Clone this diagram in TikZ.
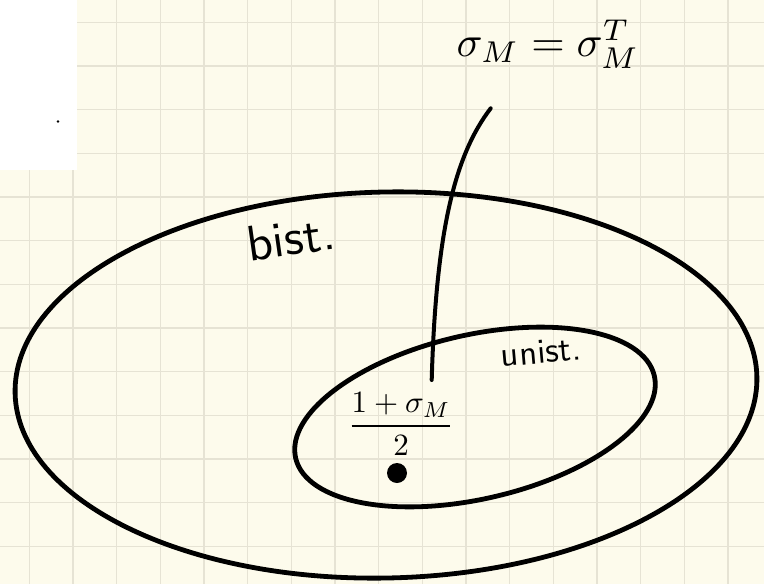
\documentclass[tikz,border=0pt]{standalone}
\usepackage{amsmath}
\definecolor{paper}{HTML}{FDFBEC}
\definecolor{gridline}{HTML}{E6E3D4}
\tikzset{
  pen/.style={line width=4.8pt},
  hand/.style={font=\sffamily}
}
\begin{document}
\begin{tikzpicture}[x=1pt,y=-1pt]
            \useasboundingbox (0,0) rectangle (764,584);
            \fill[paper] (0,0) rectangle (764,584);
            \foreach \k in {0,...,16} \draw[gridline,line width=1.3pt] (29.3+43.67*\k,0) -- (29.3+43.67*\k,584);
            \foreach \k in {0,...,12} \draw[gridline,line width=1.3pt] (0,22.3+43.67*\k) -- (764,22.3+43.67*\k);
            \fill[white] (0,0) rectangle (77,170);
            \fill (58,121.5) circle (1.3pt);
            % the two sets
            \draw[pen,rotate around={1.3:(386,385)}] (386,385) ellipse [x radius=371, y radius=193];
            \draw[pen,rotate around={12.9:(475,417)}] (475,417) ellipse [x radius=184, y radius=82];
            \node[hand,scale=5,rotate=8] (bist) at (291,238) {bist.};
            \node[hand,scale=3.5,rotate=5] (unist) at (541,352) {unist.};
            \node[scale=4.3] (sym) at (548,44) {$\sigma_M = \sigma_M^T$};
            \node[scale=3.1] (frac) at (401,424) {$\dfrac{1+\sigma_M}{2}$};
            \fill (397,473) circle (10pt);
            \coordinate (symfoot) at (490.7,108.3);
            \coordinate (fractop) at (431.7,380);
            \draw[line width=4pt,line cap=round] (symfoot) .. controls (455,155) and (436,230) .. (fractop);
        \end{tikzpicture}
\end{document}
